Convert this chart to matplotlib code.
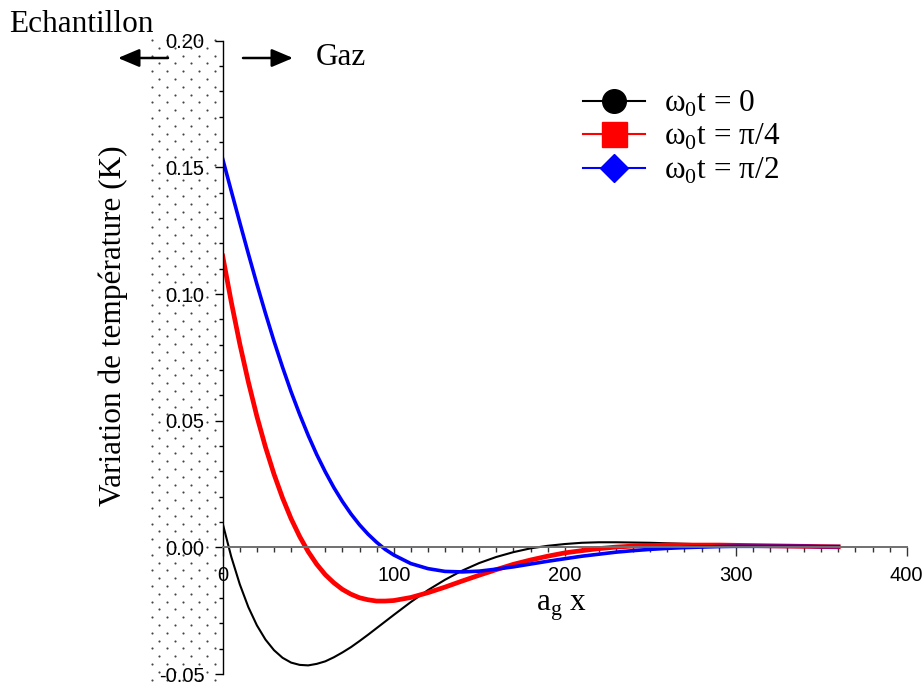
import numpy as np
import matplotlib
matplotlib.use('Agg')
import matplotlib.pyplot as plt
from matplotlib.lines import Line2D
from matplotlib.ticker import MultipleLocator, FormatStrFormatter

# ---------- données ----------
# abscisse réduite a_g x
x_pos = [0, 5, 10, 15, 20, 25, 30, 35, 40, 45, 50, 55, 60, 65, 70, 75, 80, 85, 90, 95, 100,
         110, 120, 130, 140, 150, 160, 170, 180, 190, 200, 210, 220, 230, 240, 250,
         260, 270, 280, 290, 300, 310, 320, 330, 340, 350, 360]

# variation de température (K) pour w0 t = 0
dT_0 = [0.0094, -0.0037, -0.0146, -0.0236, -0.0308, -0.0364, -0.0406, -0.0436, -0.0455, -0.0464,
        -0.0466, -0.0460, -0.0450, -0.0434, -0.0415, -0.0394, -0.0370, -0.0345, -0.0319, -0.0293,
        -0.0267, -0.0216, -0.0169, -0.0128, -0.0092, -0.0062, -0.0038, -0.0019, -0.0004, 0.0006,
        0.0013, 0.0018, 0.0020, 0.0020, 0.0019, 0.0018, 0.0016, 0.0014, 0.0012, 0.0009,
        0.0007, 0.0006, 0.0004, 0.0003, 0.0002, 0.0001, 0.0000]

# w0 t = pi/4
dT_pi4 = [0.1150, 0.0969, 0.0803, 0.0653, 0.0517, 0.0396, 0.0289, 0.0195, 0.0113, 0.0043,
          -0.0017, -0.0067, -0.0108, -0.0140, -0.0166, -0.0185, -0.0199, -0.0207, -0.0212, -0.0212,
          -0.0210, -0.0198, -0.0179, -0.0157, -0.0133, -0.0110, -0.0088, -0.0067, -0.0050, -0.0035,
          -0.0022, -0.0013, -0.0005, 0.0001, 0.0005, 0.0007, 0.0009, 0.0009, 0.0009, 0.0009,
          0.0008, 0.0007, 0.0006, 0.0005, 0.0004, 0.0003, 0.0002]

# w0 t = pi/2
dT_pi2 = [0.1533, 0.1407, 0.1282, 0.1159, 0.1039, 0.0924, 0.0814, 0.0711, 0.0614, 0.0525,
          0.0442, 0.0366, 0.0298, 0.0236, 0.0181, 0.0132, 0.0089, 0.0052, 0.0020, -0.0008,
          -0.0030, -0.0064, -0.0084, -0.0095, -0.0097, -0.0094, -0.0086, -0.0077, -0.0066, -0.0055,
          -0.0045, -0.0035, -0.0027, -0.0019, -0.0013, -0.0008, -0.0004, -0.0001, 0.0001, 0.0003,
          0.0004, 0.0004, 0.0004, 0.0004, 0.0004, 0.0003, 0.0003]

labels = ['ω$_\\mathregular{0}$t = 0', 'ω$_\\mathregular{0}$t = π/4', 'ω$_\\mathregular{0}$t = π/2']
x_ticks = [0, 100, 200, 300, 400]
y_ticks = [-0.05, 0.00, 0.05, 0.10, 0.15, 0.20]

SERIF = ['Liberation Serif', 'DejaVu Serif']
SANS = ['Liberation Sans', 'DejaVu Sans']
W, H = 923, 686

fig = plt.figure(figsize=(W / 100, H / 100), dpi=100)

# calque en pixels pour le décor (zone pointillée, flèches, textes)
deco = fig.add_axes([0, 0, 1, 1], zorder=0)
deco.set_xlim(0, W)
deco.set_ylim(H, 0)
deco.axis('off')

# zone échantillon : trame de points
dots_x, dots_y = [], []
for i, yy in enumerate(np.arange(40, H, 7.8)):
    start = 151.5 if i % 2 == 0 else 159.4
    for xx in np.arange(start, 220, 15.8):
        dots_x.append(xx)
        dots_y.append(yy)
deco.scatter(dots_x, dots_y, s=2.4, color='#444444', linewidths=0)

deco.text(9, 32, 'Echantillon', fontsize=22.5, family=SERIF, ha='left', va='baseline')
deco.text(316, 65, 'Gaz', fontsize=22.5, family=SERIF, ha='left', va='baseline')
arrow = dict(arrowstyle='-|>,head_length=1.3,head_width=0.55', color='black', lw=1.8,
             shrinkA=0, shrinkB=0)
deco.annotate('', xy=(118, 58), xytext=(168, 58), arrowprops=arrow)
deco.annotate('', xy=(293, 58), xytext=(243, 58), arrowprops=arrow)

# ---------- axes principaux ----------
ax = fig.add_axes([222.7 / W, 12 / H, 684 / W, 633.3 / H], zorder=1)
ax.patch.set_alpha(0)

ax.plot(x_pos, dT_0, color='black', lw=1.5)
ax.plot(x_pos, dT_pi4, color='#ff0000', lw=3.4)
ax.plot(x_pos, dT_pi2, color='#0000ff', lw=2.6)

ax.set_xlim(0, 400)
ax.set_ylim(-0.05, 0.20)
ax.spines['top'].set_visible(False)
ax.spines['right'].set_visible(False)
ax.spines['bottom'].set_position(('data', 0))
ax.spines['bottom'].set_color('#707070')
ax.spines['bottom'].set_linewidth(1.4)
ax.spines['left'].set_linewidth(1.0)

ax.set_xticks(x_ticks)
ax.set_yticks(y_ticks)
ax.xaxis.set_minor_locator(MultipleLocator(10))
ax.yaxis.set_minor_locator(MultipleLocator(0.01))
ax.yaxis.set_major_formatter(FormatStrFormatter('%.2f'))
ax.tick_params(axis='x', which='major', direction='out', length=6.5, width=1, pad=7, color='#333333')
ax.tick_params(axis='x', which='minor', direction='out', length=3.5, width=1, color='#333333')
ax.tick_params(axis='y', which='major', direction='out', length=5.5, width=1, pad=7.5)
ax.tick_params(axis='y', which='minor', direction='out', length=3, width=1)
ax.tick_params(axis='both', which='major', labelsize=14.5, labelfontfamily='Liberation Sans')

fig.text(113 / W, 1 - 326 / H, 'Variation de température (K)', rotation=90,
         fontsize=22.5, family=SERIF, ha='center', va='center')
fig.text(562 / W, 1 - 608 / H, 'a$_\\mathregular{g}$ x', fontsize=22.5, family=SERIF,
         ha='center', va='center')

# légende avec gros symboles
handles = [
    Line2D([], [], color='black', lw=1.5, marker='o', ms=17, mfc='black', mec='black'),
    Line2D([], [], color='#ff0000', lw=1.5, marker='s', ms=18, mfc='#ff0000', mec='#ff0000'),
    Line2D([], [], color='#0000ff', lw=1.5, marker='D', ms=14.5, mfc='#0000ff', mec='#0000ff'),
]
ax.legend(handles, labels, loc='upper left', bbox_to_anchor=(583 / W, 1 - 89 / H),
          bbox_transform=fig.transFigure, frameon=False, borderpad=0, borderaxespad=0,
          handlelength=1.97, handletextpad=0.62, labelspacing=0.1,
          prop={'family': SERIF, 'size': 22.5})

fig.savefig('out.png', dpi=100)
